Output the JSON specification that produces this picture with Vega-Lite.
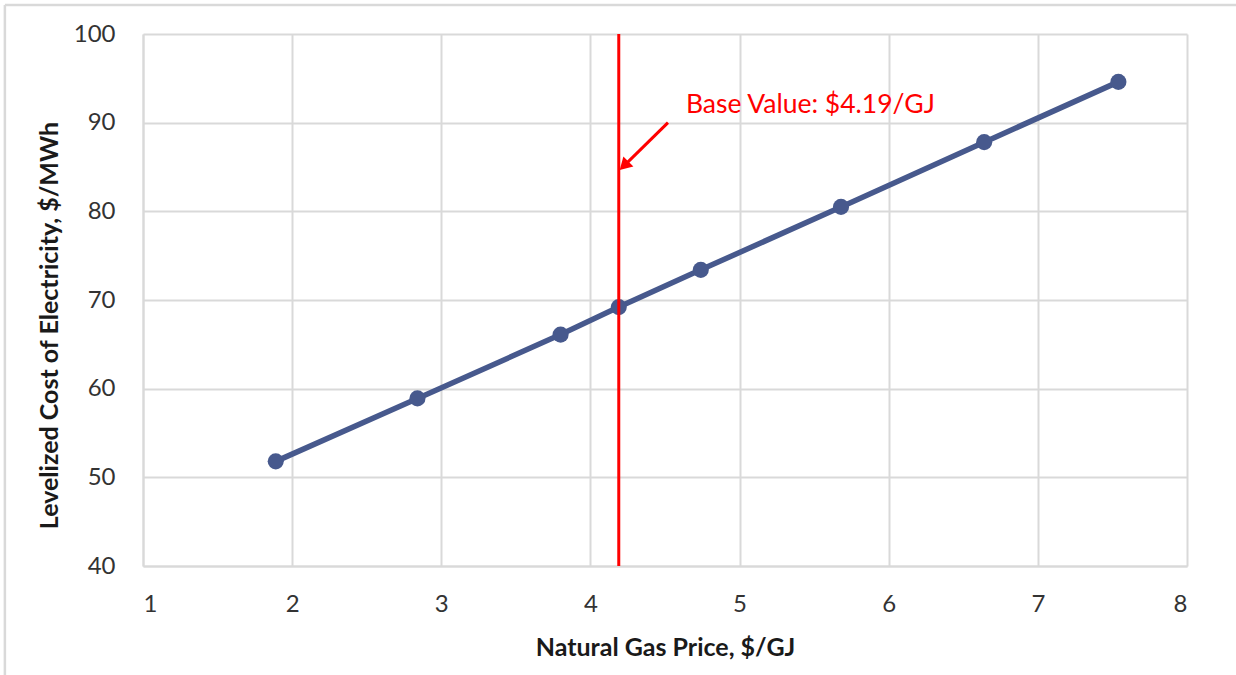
{
  "$schema": "https://vega.github.io/schema/vega-lite/v6.json",
  "autosize": {"type": "none"},
  "width": 1044,
  "height": 532,
  "padding": {"left": 143, "top": 34, "right": 49, "bottom": 109},
  "background": "white",
  "config": {
    "view": {"stroke": null},
    "font": "Lato",
    "axis": {
      "labelFont": "Lato", "labelFontSize": 24, "labelColor": "#333333",
      "titleFont": "Lato", "titleFontSize": 25, "titleFontWeight": "bold", "titleColor": "#1a1a1a",
      "gridColor": "#d9d9d9", "gridWidth": 2, "gridOpacity": 1,
      "domainColor": "#d9d9d9", "domainWidth": 2, "ticks": false
    }
  },
  "datasets": {
    "lcoe": [
      {"gas": 1.89, "cost": 51.8},
      {"gas": 2.84, "cost": 58.9},
      {"gas": 3.80, "cost": 66.1},
      {"gas": 4.19, "cost": 69.2},
      {"gas": 4.74, "cost": 73.4},
      {"gas": 5.68, "cost": 80.5},
      {"gas": 6.64, "cost": 87.8},
      {"gas": 7.54, "cost": 94.6}
    ],
    "frame": [
      {"x": 0.074, "y": 103.27, "x2": 8.4, "y2": 103.27},
      {"x": 0.074, "y": 103.27, "x2": 0.074, "y2": 27.0}
    ],
    "base": [{"gas": 4.19}],
    "arrow": [{"x": 4.52, "y": 90.0, "x2": 4.235, "y2": 85.3, "label": "Base Value: $4.19/GJ", "tx": 4.64, "ty": 91.1}]
  },
  "layer": [
    {
      "data": {"name": "frame"},
      "mark": {"type": "rule", "color": "#d9d9d9", "strokeWidth": 2.5, "clip": false},
      "encoding": {
        "x": {"field": "x", "type": "quantitative", "scale": {"domain": [1, 8]}},
        "y": {"field": "y", "type": "quantitative", "scale": {"domain": [40, 100]}},
        "x2": {"field": "x2"},
        "y2": {"field": "y2"}
      }
    },
    {
      "data": {"name": "lcoe"},
      "mark": {"type": "line", "color": "#47598d", "strokeWidth": 5.5, "point": {"filled": true, "size": 260, "color": "#47598d", "opacity": 1}},
      "encoding": {
        "x": {
          "field": "gas", "type": "quantitative",
          "scale": {"domain": [1, 8], "nice": false, "zero": false},
          "axis": {"values": [1, 2, 3, 4, 5, 6, 7, 8], "format": "d", "labelPadding": 26, "title": "Natural Gas Price, $/GJ", "titleBaseline": "alphabetic", "titleY": 89}
        },
        "y": {
          "field": "cost", "type": "quantitative",
          "scale": {"domain": [40, 100], "nice": false, "zero": false},
          "axis": {"values": [40, 50, 60, 70, 80, 90, 100], "format": "d", "labelPadding": 28, "title": "Levelized Cost of Electricity, $/MWh", "titleAngle": 270, "titleBaseline": "alphabetic", "titleX": -86, "titleY": 291, "titleAlign": "center"}
        }
      }
    },
    {
      "data": {"name": "base"},
      "mark": {"type": "rule", "color": "#ff0000", "strokeWidth": 3},
      "encoding": {"x": {"field": "gas", "type": "quantitative"}}
    },
    {
      "data": {"name": "arrow"},
      "mark": {"type": "rule", "color": "#ff0000", "strokeWidth": 3},
      "encoding": {
        "x": {"field": "x", "type": "quantitative"},
        "y": {"field": "y", "type": "quantitative"},
        "x2": {"field": "x2"},
        "y2": {"field": "y2"}
      }
    },
    {
      "data": {"name": "arrow"},
      "mark": {"type": "point", "shape": "triangle", "filled": true, "color": "#ff0000", "size": 200, "angle": 225, "opacity": 1},
      "encoding": {
        "x": {"field": "x2", "type": "quantitative"},
        "y": {"field": "y2", "type": "quantitative"}
      }
    },
    {
      "data": {"name": "arrow"},
      "mark": {"type": "text", "color": "#ff0000", "fontSize": 26.5, "font": "Lato", "align": "left", "baseline": "alphabetic"},
      "encoding": {
        "x": {"field": "tx", "type": "quantitative"},
        "y": {"field": "ty", "type": "quantitative"},
        "text": {"field": "label"}
      }
    }
  ]
}
